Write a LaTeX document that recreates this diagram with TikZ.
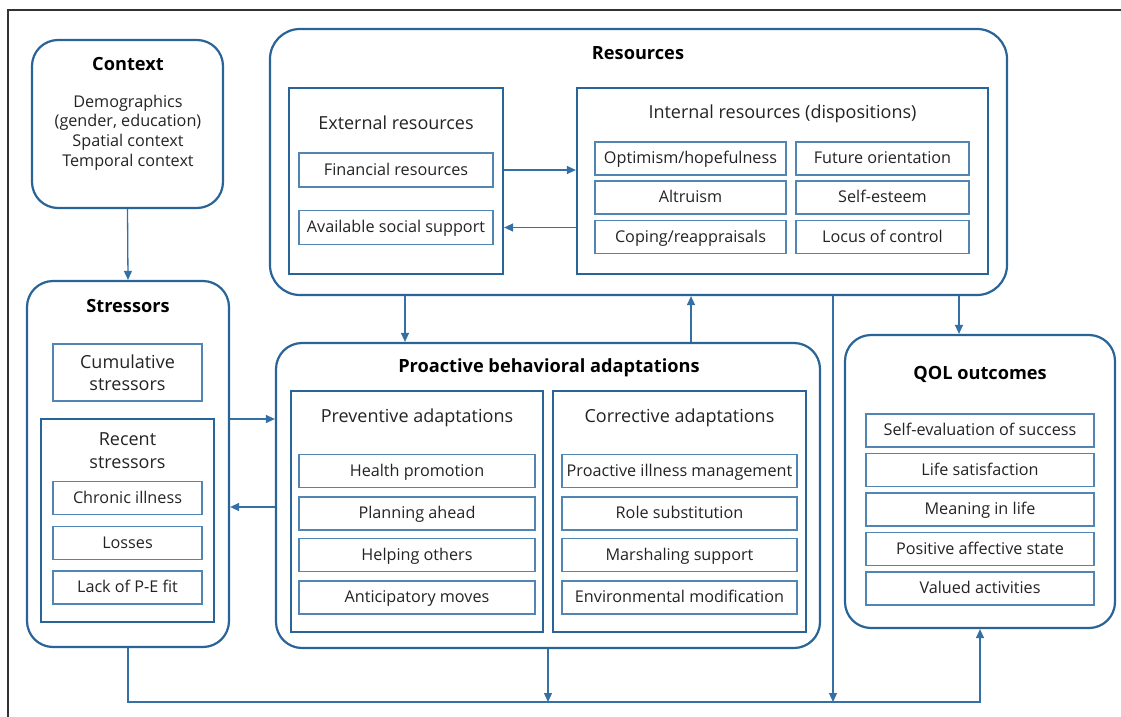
\documentclass[tikz,border=0pt]{standalone}
\usepackage{fontspec}
\setmainfont{Open Sans}
\usetikzlibrary{arrows.meta}
\definecolor{boxblue}{RGB}{40,100,152}
\definecolor{itemblue}{RGB}{80,133,180}
\definecolor{linkblue}{RGB}{52,112,166}
\definecolor{txt}{RGB}{35,35,35}
\definecolor{framegray}{RGB}{50,50,50}
\tikzset{
  outerbox/.style={draw=boxblue, line width=2.2pt, rounded corners=26pt, inner sep=0pt},
  groupbox/.style={draw=boxblue, line width=2.2pt, inner sep=0pt},
  itembox/.style={draw=itemblue, line width=1.3pt, inner sep=0pt, minimum height=33pt, text=txt, text height=12pt, text depth=1.6pt, font={\fontsize{16.2}{19}\selectfont}},
  ttl/.style={font={\bfseries\fontsize{18.2}{21}\selectfont}, text=black, inner sep=0pt},
  sub/.style={font={\fontsize{18}{23}\selectfont}, text=txt, inner sep=0pt, align=center},
  body/.style={font={\fontsize{16.2}{19.7}\selectfont}, text=txt, inner sep=0pt, align=center},
  link/.style={draw=linkblue, line width=1.3pt},
  arr/.style={link, -{Triangle[length=9pt,width=8pt]}},
  framestyle/.style={draw=framegray, line width=1.6pt}
}
\begin{document}
\begin{tikzpicture}[x=1pt,y=-1pt]
\path[use as bounding box] (0,0) rectangle (1121,717);
\draw[framestyle] (8,717) -- (8,10) -- (1121,10);

% Context
\node[outerbox, minimum width=191pt, minimum height=168pt] (ctx) at (127.5,124) {};
\node[ttl] (ctxt) at (128,64) {Context};
\node[body] (ctxb) at (128,132.5) {Demographics\\(gender, education)\\Spatial context\\Temporal context};

% Stressors
\node[outerbox, minimum width=202pt, minimum height=366pt] (str) at (128,464) {};
\node[ttl] (strt) at (128,306) {Stressors};
\node[draw=itemblue, line width=1.3pt, inner sep=0pt, text=txt, minimum width=149pt, minimum height=57pt, font={\fontsize{18}{22}\selectfont}, align=center] (cum) at (127.5,372.5) {Cumulative\\stressors};
\node[groupbox, minimum width=173pt, minimum height=203pt] (rec) at (127.5,520.5) {};
\node[sub] (rect) at (127.5,450.5) {Recent\\stressors};
\node[itembox, minimum width=149pt] (chr) at (127.5,498) {Chronic illness};
\node[itembox, minimum width=149pt] (los) at (127.5,543) {Losses};
\node[itembox, minimum width=149pt] (pef) at (127.5,587.5) {Lack of P-E fit};

% Resources
\node[outerbox, rounded corners=30pt, minimum width=737pt, minimum height=266pt] (res) at (638.5,162) {};
\node[ttl] (rest) at (638,53) {Resources};
\node[groupbox, minimum width=214pt, minimum height=186pt] (ext) at (396,181) {};
\node[sub] (extt) at (396,123) {External resources};
\node[itembox, minimum width=194pt, minimum height=34pt] (fin) at (396,170) {Financial resources};
\node[itembox, minimum width=194pt, minimum height=34pt] (avs) at (396,227.5) {Available social support};
\node[groupbox, minimum width=411pt, minimum height=186pt] (int) at (782.5,181) {};
\node[sub] (intt) at (782.5,114) {Internal resources (dispositions)};
\node[itembox, minimum width=191pt] (opt) at (690.5,158.5) {Optimism/hopefulness};
\node[itembox, minimum width=191pt] (alt) at (690.5,197.5) {Altruism};
\node[itembox, minimum width=191pt] (cop) at (690.5,237) {Coping/reappraisals};
\node[itembox, minimum width=173pt] (fut) at (882.5,158.5) {Future orientation};
\node[itembox, minimum width=173pt] (sel) at (882.5,197.5) {Self-esteem};
\node[itembox, minimum width=173pt] (loc) at (882.5,237) {Locus of control};

% Proactive behavioral adaptations
\node[outerbox, minimum width=544pt, minimum height=305pt] (pro) at (548,495.5) {};
\node[ttl] (prot) at (549,368) {Proactive behavioral adaptations};
\node[groupbox, minimum width=252pt, minimum height=241pt] (prev) at (417,511.5) {};
\node[sub] (prevt) at (417,418) {Preventive adaptations};
\node[itembox, minimum width=236pt] (hp) at (417,471) {Health promotion};
\node[itembox, minimum width=236pt] (pa) at (417,513.5) {Planning ahead};
\node[itembox, minimum width=236pt] (ho) at (417,555) {Helping others};
\node[itembox, minimum width=236pt] (am) at (417,597.5) {Anticipatory moves};
\node[groupbox, minimum width=253pt, minimum height=241pt] (corr) at (679.5,511.5) {};
\node[sub] (corrt) at (679.5,418) {Corrective adaptations};
\node[itembox, minimum width=235pt] (pim) at (679.5,471) {Proactive illness management};
\node[itembox, minimum width=235pt] (rs) at (679.5,513.5) {Role substitution};
\node[itembox, minimum width=235pt] (ms) at (679.5,555) {Marshaling support};
\node[itembox, minimum width=235pt] (em) at (679.5,597.5) {Environmental modification};

% QOL outcomes
\node[outerbox, minimum width=270pt, minimum height=293pt] (qol) at (980,481.5) {};
\node[ttl] (qolt) at (980,374) {QOL outcomes};
\node[itembox, minimum width=228pt] (sev) at (980,430.5) {Self-evaluation of success};
\node[itembox, minimum width=228pt] (ls) at (980,470) {Life satisfaction};
\node[itembox, minimum width=228pt] (mil) at (980,509.5) {Meaning in life};
\node[itembox, minimum width=228pt] (pas) at (980,549) {Positive affective state};
\node[itembox, minimum width=228pt] (va) at (980,588.5) {Valued activities};

% helper coordinates
\coordinate (yin) at (0,419);
\coordinate (yout) at (0,507);
\coordinate (xrp) at (405,0);
\coordinate (xpr) at (691,0);
\coordinate (xrb) at (833,0);
\coordinate (xrq) at (959,0);
\coordinate (base) at (0,702);
\coordinate (bl) at (str.south |- base);
\coordinate (br) at (qol.south |- base);

% connectors
\draw[arr] (ctx.south) -- (str.north);
\draw[arr] (str.east |- yin) -- (pro.west |- yin);
\draw[arr] (pro.west |- yout) -- (str.east |- yout);
\draw[arr] (ext.east |- fin) -- (int.west |- fin);
\draw[arr] (int.west |- avs) -- (ext.east |- avs);
\draw[arr] (res.south -| xrp) -- (pro.north -| xrp);
\draw[arr] (pro.north -| xpr) -- (res.south -| xpr);
\draw[arr] (res.south -| xrb) -- (xrb |- base);
\draw[arr] (res.south -| xrq) -- (qol.north -| xrq);
\draw[arr] (pro.south) -- (pro.south |- base);
\draw[arr] (str.south) -- (bl) -- (br) -- (qol.south);
\end{tikzpicture}
\end{document}
